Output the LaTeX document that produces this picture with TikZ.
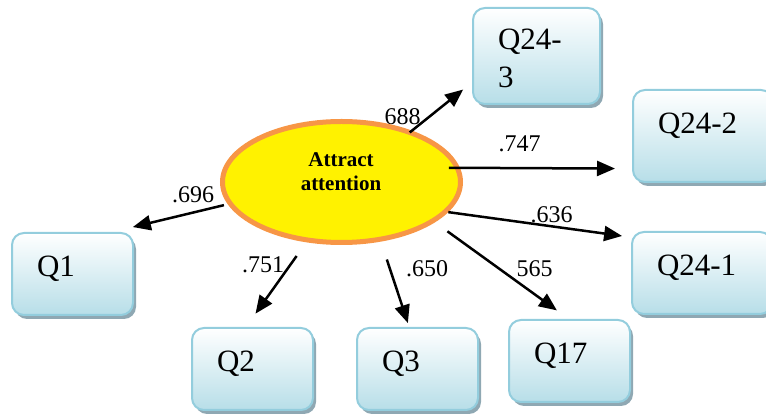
\documentclass[tikz,border=0pt]{standalone}
\usepackage{fontspec}
\setmainfont{Liberation Serif}
\usetikzlibrary{arrows.meta,shapes.geometric,shadows}
\definecolor{qborder}{RGB}{147,205,221}
\definecolor{qfill}{RGB}{183,222,232}
\definecolor{qshadow}{RGB}{143,168,179}
\definecolor{attborder}{RGB}{247,150,70}
\tikzset{qbox/.style={draw=qborder, line width=1pt, rounded corners=6pt, top color=white, bottom color=qfill,
    drop shadow={shadow xshift=1.5pt, shadow yshift=-2pt, fill=qshadow, opacity=1},
    anchor=north west, align=left, inner xsep=12.5pt, inner ysep=0pt, outer sep=0pt,
    text width=35.5pt, text height=22pt, text depth=19pt, font=\fontsize{15.5}{19}\selectfont}}
\tikzset{latent/.style={ellipse, draw=attborder, fill=yellow, line width=2.5pt, minimum width=119pt, minimum height=60.5pt, outer sep=0pt},
  loadlabel/.style={font=\fontsize{12}{14}\selectfont, inner sep=0pt},
  link/.style={->, line width=1.25pt, >={Triangle[length=9pt,width=7.5pt]}}}

\begin{document}
\begin{tikzpicture}[x=0.5pt,y=-0.5pt]
     \useasboundingbox (0,0) rectangle (766,416);
     \node[loadlabel] (l243) at (402.5,116.5) {688};
     \node[loadlabel] (l242) at (519.5,144) {.747};
     \node[loadlabel] (l241) at (551.5,215) {.636};
     \node[loadlabel] (l17) at (534.5,269) {565};
     \node[loadlabel] (l3) at (427,269) {.650};
     \node[loadlabel] (l2) at (263,265) {.751};
     \node[loadlabel] (l1) at (193,195) {.696};
     \node[latent] (att) at (341.5,182) {};
     \node[font=\bfseries\fontsize{10.5}{12}\selectfont, align=center, inner sep=0pt] (atttext) at (341,172) {Attract\\attention};
     \node[qbox] (q1) at (12,233) {Q1};
     \node[qbox] (q2) at (192,328) {Q2};
     \node[qbox] (q3) at (357,328) {Q3};
     \node[qbox] (q17) at (509,320) {Q17};
     \node[qbox, text width=45pt] (q241) at (632,232) {Q24-1};
     \node[qbox, text width=45pt, text depth=24pt] (q242) at (633,90) {Q24-2};
     \node[qbox, text width=38.5pt, text height=21pt, text depth=27pt] (q243) at (473,8) {Q24-\\3};
     \draw[link, shorten >=6.3pt] (att.36) -- (q243.202);
     \draw[link, shorten <=-4.2pt, shorten >=9pt] (att.7) -- (q242.205);
     \draw[link, shorten <=1.6pt, shorten >=5pt] (att.-16) -- (q241.153);
     \draw[link, shorten <=9pt, shorten >=8.2pt] (att.-23) -- (q17.89);
     \draw[link, shorten <=10.7pt, shorten >=2.6pt] (att.-56) -- (q3.101);
     \draw[link, shorten <=9.8pt, shorten >=8.8pt] (att.240) -- (q2.100);
     \draw[link, shorten <=3.3pt, shorten >=12.7pt] (att.191) -- (q1.49);
\end{tikzpicture}
\end{document}
